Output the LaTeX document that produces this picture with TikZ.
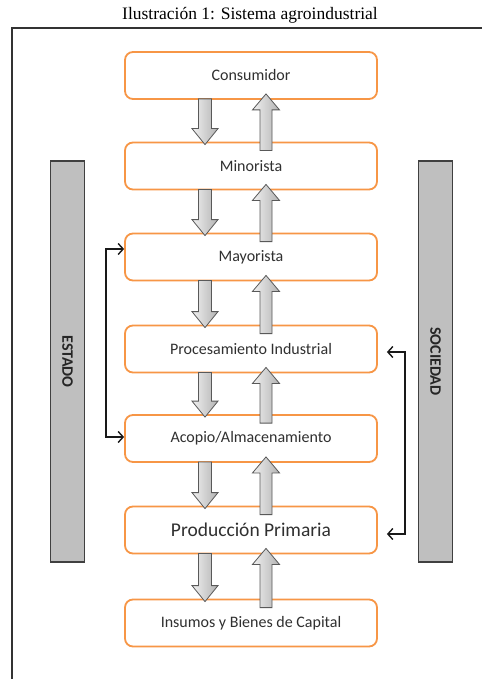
\documentclass[tikz,border=0pt]{standalone}
\usepackage{fontspec}
\setmainfont{Liberation Serif}
\newfontfamily\calfont{Carlito}
\usetikzlibrary{calc,arrows.meta}
\definecolor{boxorange}{HTML}{F79646}
\definecolor{bargray}{HTML}{BFBFBF}
\definecolor{txtgray}{HTML}{303030}
\tikzset{
  x=1pt, y=-1pt,
  stagebox/.style={draw=boxorange, line width=1.8pt, fill=white, rounded corners=8pt,
    minimum width=252pt, minimum height=47pt, inner sep=0pt,
    font=\calfont\fontsize{16}{18}\selectfont, text=txtgray},
  sidebar/.style={draw=black!75, line width=1.2pt, fill=bargray,
    minimum width=34pt, minimum height=401pt, inner sep=0pt},
  sidelabel/.style={font=\calfont\bfseries\fontsize{16}{18}\selectfont, text=black!85, rotate=-90},
  blockarr/.style={draw=black!65, line width=0.8pt, left color=gray!12, right color=gray!60, line join=miter},
  linkarr/.style={draw=black!90, line width=1.4pt, {Straight Barb[length=5pt,width=11pt]}-{Straight Barb[length=5pt,width=11pt]}},
}
\newcommand{\dnarr}[2]{%
  \path[blockarr] ($(#1.south)+(-52.5,-1)$) -- ($(#1.south)+(-39.5,-1)$) -- ($(#2.north)+(-39.5,-13)$) --
    ($(#2.north)+(-33,-13)$) -- ($(#2.north)+(-46,3)$) -- ($(#2.north)+(-59,-13)$) --
    ($(#2.north)+(-52.5,-13)$) -- cycle;}
\newcommand{\uparr}[2]{%
  \path[blockarr] ($(#2.north)+(9,9)$) -- ($(#2.north)+(21,9)$) -- ($(#1.south)+(21,10)$) --
    ($(#1.south)+(28.5,10)$) -- ($(#1.south)+(15,-6)$) -- ($(#1.south)+(1.5,10)$) --
    ($(#1.south)+(9,10)$) -- cycle;}
\begin{document}
\begin{tikzpicture}
\useasboundingbox (0,0) rectangle (482,679);
\fill[white] (0,0) rectangle (482,679);
% title and frame
\node (title) at (250,15) {\fontsize{17.5}{19}\selectfont Ilustración 1: Sistema agroindustrial};
\draw[black!80, line width=1.2pt] (12,679) -- (12,28) -- (482,28);
% side bars
\node[sidebar] (estado) at (67.5,361.5) {};
\node[sidelabel] at (estado.center) {ESTADO};
\node[sidebar] (sociedad) at (435.5,361.5) {};
\node[sidelabel] at (sociedad.center) {SOCIEDAD};
% stages
\node[stagebox] (cons) at (251,75.5) {Consumidor};
\node[stagebox] (mino) at (251,166) {Minorista};
\node[stagebox] (mayo) at (251,257) {Mayorista};
\node[stagebox] (proc) at (251,349) {Procesamiento Industrial};
\node[stagebox] (acop) at (251,438.5) {Acopio/Almacenamiento};
\node[stagebox, font=\calfont\fontsize{19.5}{22}\selectfont] (prod) at (251,530) {Producción Primaria};
\node[stagebox] (insu) at (251,623) {Insumos y Bienes de Capital};
% block arrows
\foreach \a/\b in {cons/mino, mino/mayo, mayo/proc, proc/acop, acop/prod, prod/insu}{
  \dnarr{\a}{\b}
  \uparr{\a}{\b}
}
% link arrows
\draw[linkarr] ($(mayo.west)+(0,-8)$) -- ++(-18,0) |- ($(acop.west)+(0,-1.5)$);
\draw[linkarr] ($(proc.east)+(9,3)$) -- ++(18,0) |- ($(prod.east)+(9,4)$);
\end{tikzpicture}
\end{document}
